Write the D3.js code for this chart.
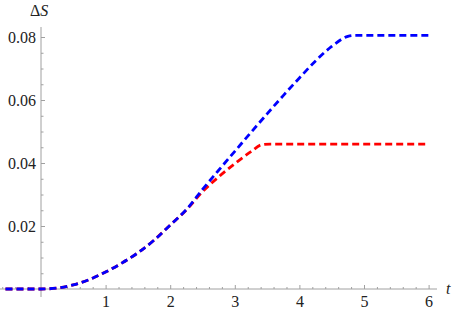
<!DOCTYPE html>
<html>
<head>
<meta charset="utf-8">
<script src="https://cdn.jsdelivr.net/npm/d3@7"></script>
</head>
<body style="margin:0">
<script>
var svgWidth = 452;
var svgHeight = 313;

// valores
var tBlue = [-0.55, 0, 0.25, 0.5, 0.75, 1, 1.25, 1.5, 1.75, 2, 2.25, 2.5, 2.75, 3, 3.25, 3.5, 3.75, 4, 4.25, 4.5, 4.75, 4.85, 6];
var sBlue = [0, 0, 0.0003, 0.0013, 0.003, 0.0054, 0.0082, 0.0115, 0.0155, 0.0203, 0.0252, 0.0316, 0.0377, 0.0437, 0.0497, 0.0556, 0.0614, 0.067, 0.0724, 0.077, 0.0802, 0.0805, 0.0805];
var tRed = [-0.55, 0, 0.25, 0.5, 0.75, 1, 1.25, 1.5, 1.75, 2, 2.25, 2.5, 2.75, 3, 3.25, 3.42, 3.55, 6];
var sRed = [0, 0, 0.0003, 0.0013, 0.003, 0.0054, 0.0082, 0.0115, 0.0155, 0.0203, 0.0251, 0.0309, 0.0356, 0.0398, 0.0436, 0.0458, 0.046, 0.046];

var xTicks = [1, 2, 3, 4, 5, 6];
var yTicks = [0.02, 0.04, 0.06, 0.08];

var fontName = "'Liberation Serif'";

var svg = d3.select("body")
    .append("svg")
    .attr("width", svgWidth)
    .attr("height", svgHeight)
    .style("display", "block")
    .style("font-family", fontName);

var x = d3.scaleLinear().domain([0, 6]).range([41, 428.6]);
var y = d3.scaleLinear().domain([0, 0.08]).range([289, 37]);

// ejes
var axisColor = "#a0a0a0";

var xMinor = d3.range(-0.6, 6.01, 0.2).filter(function(v) { return Math.abs(v - Math.round(v)) > 0.01; });
var yMinor = d3.range(0.005, 0.0801, 0.005).filter(function(v) { return Math.abs(v / 0.02 - Math.round(v / 0.02)) > 0.01; });

svg.append("g")
    .attr("transform", "translate(0," + y(0) + ")")
    .call(d3.axisBottom(x).tickValues(xMinor).tickSize(-2).tickFormat(""))
    .call(function(g) { g.select(".domain").remove(); });

var xAxis = svg.append("g")
    .attr("transform", "translate(0," + y(0) + ")")
    .call(d3.axisBottom(x).tickValues(xTicks).tickSize(-4).tickPadding(7).tickFormat(d3.format("d")));
xAxis.select(".domain").remove();

svg.append("g")
    .attr("transform", "translate(" + x(0) + ",0)")
    .call(d3.axisLeft(y).tickValues(yMinor).tickSize(-2.5).tickFormat(""))
    .call(function(g) { g.select(".domain").remove(); });

var yAxis = svg.append("g")
    .attr("transform", "translate(" + x(0) + ",0)")
    .call(d3.axisLeft(y).tickValues(yTicks).tickSize(-4).tickPadding(5).tickFormat(d3.format(".2f")));
yAxis.select(".domain").remove();

svg.selectAll("g").attr("font-family", "Liberation Serif").attr("font-size", 16);
svg.selectAll(".tick line").attr("stroke", axisColor);
svg.selectAll(".tick text")
    .attr("font-family", "Liberation Serif")
    .style("font-family", fontName)
    .style("font-size", "16px")
    .attr("fill", "#222");

svg.append("line")
    .attr("x1", 0).attr("x2", 437)
    .attr("y1", y(0)).attr("y2", y(0))
    .attr("stroke", axisColor);

svg.append("line")
    .attr("x1", x(0)).attr("x2", x(0))
    .attr("y1", 27).attr("y2", 297)
    .attr("stroke", axisColor);

// curvas
var line = d3.line()
    .x(function(d) { return x(d[0]); })
    .y(function(d) { return y(d[1]); })
    .curve(d3.curveMonotoneX);

svg.append("path")
    .datum(d3.zip(tRed, sRed))
    .attr("d", line)
    .attr("fill", "none")
    .attr("stroke", "#ff0000")
    .attr("stroke-width", 2.8)
    .attr("stroke-dasharray", "7,4");

svg.append("path")
    .datum(d3.zip(tBlue, sBlue))
    .attr("d", line)
    .attr("fill", "none")
    .attr("stroke", "#0000ff")
    .attr("stroke-width", 2.8)
    .attr("stroke-dasharray", "7,4");

// etiquetas de ejes
var dLabel = svg.append("text")
    .attr("x", 30)
    .attr("y", 16)
    .style("font-family", fontName)
    .style("font-size", "16px")
    .attr("fill", "#222");
dLabel.append("tspan").text("Δ");
dLabel.append("tspan").style("font-style", "italic").text("S");

svg.append("text")
    .attr("x", 446)
    .attr("y", 294)
    .style("font-family", fontName)
    .style("font-size", "16px")
    .style("font-style", "italic")
    .attr("fill", "#222")
    .text("t");
</script>
</body>
</html>
